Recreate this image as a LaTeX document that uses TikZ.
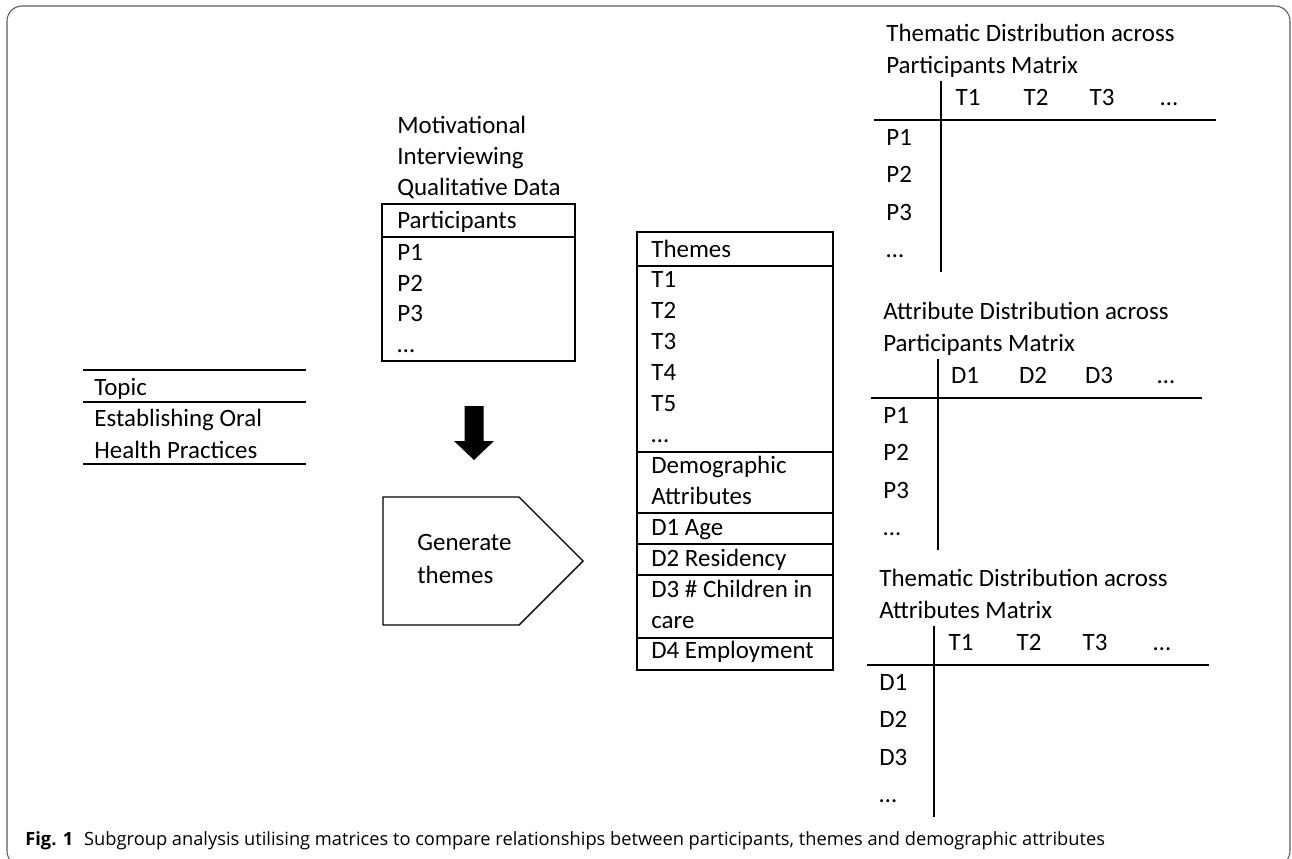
\documentclass[tikz,border=0pt]{standalone}
\usepackage{fontspec}
\setmainfont{Carlito}
\newfontfamily\capfont{Open Sans}
\usetikzlibrary{positioning}

\begin{document}
\begin{tikzpicture}[x=0.02cm, y=-0.02cm]
        \tikzstyle{txt}=[anchor=base west, inner sep=0pt, font=\fontsize{14.2}{17}\selectfont]
        \tikzstyle{colhead}=[anchor=base, inner sep=0pt, font=\fontsize{14.2}{17}\selectfont]
        \tikzstyle{boxline}=[draw=black, line width=0.8pt]
        \tikzstyle{axis}=[draw=black, line width=1pt]
        \useasboundingbox (0,0) rectangle (1292,859);
        \draw[black!65, line width=0.6pt, rounded corners=0.3cm] (7,6) rectangle (1290,866);

        % topic
        \node[txt] (topic) at (94,395) {Topic};
        \node[txt] (est) at (94,426) {Establishing Oral};
        \node[txt] (hea) at (94,458) {Health Practices};
        \foreach \y in {370,402,464}
          \draw[boxline] (83,\y) -- (306,\y);

        % participants
        \node[txt] (mi1) at (397,133) {Motivational};
        \node[txt] (mi2) at (397,164) {Interviewing};
        \node[txt] (mi3) at (397,195) {Qualitative Data};
        \node[txt] (par) at (397,228) {Participants};
        \foreach \i/\t in {1/P1,2/P2,3/P3,4/…}
        {
          \pgfmathsetmacro{\yb}{230+30.5*\i}
          \node[txt] (par\i) at (397,\yb) {\t};
        }
        \draw[boxline] (382,204) rectangle (575,361);
        \draw[boxline] (382,237) -- (575,237);

        % block arrow
        \fill (464.5,406) -- (483.5,406) -- (483.5,441) -- (494,441) -- (474,460)
          -- (454,441) -- (464.5,441) -- cycle;

        % generate themes
        \draw[boxline] (383,497) -- (519,497) -- (583,561) -- (519,625) -- (383,625) -- cycle;
        \node[txt] (gen1) at (417,550) {Generate};
        \node[txt] (gen2) at (417,583) {themes};

        % themes and attributes
        \foreach \i/\t in {0/Themes,1/T1,2/T2,3/T3,4/T4,5/T5,6/…,7/Demographic,8/Attributes,
          9/D1 Age,10/D2 Residency,11/D3 \# Children in,12/care,13/D4 Employment}
        {
          \pgfmathsetmacro{\yb}{257+30.92*\i}
          \node[txt] (th\i) at (651,\yb) {\t};
        }
        \draw[boxline] (637,232) rectangle (833,670);
        \foreach \y in {266,452,513,544,575,638}
          \draw[boxline] (637,\y) -- (833,\y);

        % matrices
        \foreach \m/\vx/\hy/\ta/\tb/\cl/\rl/\hr in {
          1/941/120/Thematic Distribution across/Participants Matrix/T/P/275,
          2/938/398/Attribute Distribution across/Participants Matrix/D/P/264,
          3/934/665/Thematic Distribution across/Attributes Matrix/T/D/275}
        {
          \begin{scope}[shift={(\vx,\hy)}]
            \node[txt] (m\m t1) at (-55,-79) {\ta};
            \node[txt] (m\m t2) at (-55,-47) {\tb};
            \draw[axis] (0,-39) -- (0,152);
            \draw[axis] (-67,0) -- (\hr,0);
            \foreach \c/\cx in {1/27,2/95,3/161}
              \node[colhead] (m\m c\c) at (\cx,-15) {\cl\c};
            \node[colhead] (m\m c4) at (228,-15) {…};
            \foreach \r in {1,2,3}
            {
              \pgfmathsetmacro{\yr}{25+37.5*(\r-1)}
              \node[txt] (m\m r\r) at (-55,\yr) {\rl\r};
            }
            \node[txt] (m\m r4) at (-55,137.5) {…};
          \end{scope}
        }

        % caption
        \node[anchor=base west, inner sep=0pt, font=\capfont\fontsize{10.4}{12}\selectfont] (cap) at (25,845)
          {\textbf{Fig. 1}\hspace{0.6em}Subgroup analysis utilising matrices to compare relationships between participants, themes and demographic attributes};
\end{tikzpicture}
\end{document}
